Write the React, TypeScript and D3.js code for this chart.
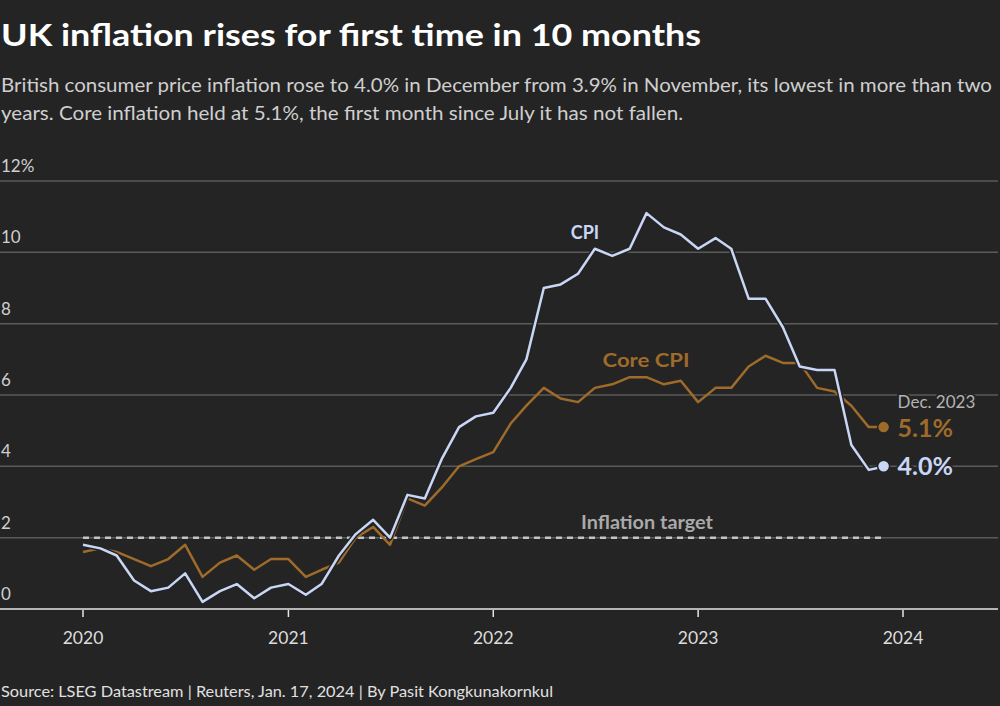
import React, { useEffect, useRef } from 'react';
import * as d3 from 'd3';

const months = d3.timeMonths(new Date(2020, 0, 1), new Date(2024, 0, 1));

const cpi = [
  1.8, 1.7, 1.5, 0.8, 0.5, 0.6, 1.0, 0.2, 0.5, 0.7, 0.3, 0.6,
  0.7, 0.4, 0.7, 1.5, 2.1, 2.5, 2.0, 3.2, 3.1, 4.2, 5.1, 5.4,
  5.5, 6.2, 7.0, 9.0, 9.1, 9.4, 10.1, 9.9, 10.1, 11.1, 10.7, 10.5,
  10.1, 10.4, 10.1, 8.7, 8.7, 7.9, 6.8, 6.7, 6.7, 4.6, 3.9, 4.0,
];

const coreCpi = [
  1.6, 1.7, 1.6, 1.4, 1.2, 1.4, 1.8, 0.9, 1.3, 1.5, 1.1, 1.4,
  1.4, 0.9, 1.1, 1.3, 2.0, 2.3, 1.8, 3.1, 2.9, 3.4, 4.0, 4.2,
  4.4, 5.2, 5.7, 6.2, 5.9, 5.8, 6.2, 6.3, 6.5, 6.5, 6.3, 6.4,
  5.8, 6.2, 6.2, 6.8, 7.1, 6.9, 6.9, 6.2, 6.1, 5.7, 5.1, 5.1,
];

const yTicks = [0, 2, 4, 6, 8, 10, 12];
const xTicks = [2020, 2021, 2022, 2023, 2024];
const target = 2;

const BG = '#242424';
const CPI_COLOR = '#c9d6f6';
const CORE_COLOR = '#9e6b2a';
const FONT = 'Lato, "Noto Sans", sans-serif';

const App = () => {
  const svgRef = useRef(null);

  useEffect(() => {
    const width = 1000;
    const height = 706;
    const svg = d3.select(svgRef.current);
    svg.selectAll('*').remove();
    svg.attr('width', width).attr('height', height).style('font-family', FONT);

    svg.append('rect').attr('width', width).attr('height', height).attr('fill', BG);

    // title + subtitle
    svg.append('text').attr('x', 1).attr('y', 46)
      .attr('fill', '#fff').attr('font-size', 31).attr('font-weight', 700)
      .attr('textLength', 700).attr('lengthAdjust', 'spacingAndGlyphs')
      .text('UK inflation rises for first time in 10 months');
    svg.append('text').attr('x', 1).attr('y', 92)
      .attr('fill', '#cfcfcf').attr('font-size', 19)
      .attr('textLength', 991).attr('lengthAdjust', 'spacingAndGlyphs')
      .text('British consumer price inflation rose to 4.0% in December from 3.9% in November, its lowest in more than two');
    svg.append('text').attr('x', 1).attr('y', 120)
      .attr('fill', '#cfcfcf').attr('font-size', 19)
      .attr('textLength', 682).attr('lengthAdjust', 'spacingAndGlyphs')
      .text('years. Core inflation held at 5.1%, the first month since July it has not fallen.');

    const x = d3.scaleTime()
      .domain([new Date(2020, 0, 1), new Date(2024, 0, 1)])
      .range([83, 903]);
    const y = d3.scaleLinear().domain([0, 12]).range([609, 181]);

    // grid
    const grid = svg.append('g');
    yTicks.forEach((t) => {
      grid.append('line')
        .attr('x1', 0).attr('x2', 998)
        .attr('y1', y(t)).attr('y2', y(t))
        .attr('stroke', t === 0 ? '#e6e6e6' : '#5a5a5a')
        .attr('stroke-width', 1.5);
      grid.append('text')
        .attr('x', 1).attr('y', y(t) - 9)
        .attr('fill', '#cfcfcf').attr('font-size', 17)
        .text(t === 12 ? `${t}%` : `${t}`);
    });

    // x ticks
    xTicks.forEach((yr) => {
      const px = x(new Date(yr, 0, 1));
      svg.append('line')
        .attr('x1', px).attr('x2', px).attr('y1', 610).attr('y2', 617)
        .attr('stroke', '#e6e6e6').attr('stroke-width', 1.5);
      svg.append('text')
        .attr('x', px).attr('y', 644).attr('text-anchor', 'middle')
        .attr('fill', '#dcdcdc').attr('font-size', 17.5)
        .text(yr);
    });

    // inflation target
    svg.append('line')
      .attr('x1', x(months[0])).attr('x2', x(months[months.length - 1]))
      .attr('y1', y(target)).attr('y2', y(target))
      .attr('stroke', '#c4c4c4').attr('stroke-width', 2.5)
      .attr('stroke-dasharray', '6 5');
    svg.append('text')
      .attr('x', 647).attr('y', y(target) - 9).attr('text-anchor', 'middle')
      .attr('fill', '#a9a9a9').attr('font-size', 18).attr('font-weight', 700)
      .attr('textLength', 132).attr('lengthAdjust', 'spacingAndGlyphs')
      .text('Inflation target');

    const line = d3.line<number>()
      .x((_, i) => x(months[i]))
      .y((d) => y(d));

    svg.append('path').datum(coreCpi)
      .attr('d', line).attr('fill', 'none')
      .attr('stroke', CORE_COLOR).attr('stroke-width', 2.5)
      .attr('stroke-linejoin', 'round');
    svg.append('path').datum(cpi)
      .attr('d', line).attr('fill', 'none')
      .attr('stroke', BG).attr('stroke-width', 5.5)
      .attr('stroke-linejoin', 'round');
    svg.append('path').datum(cpi)
      .attr('d', line).attr('fill', 'none')
      .attr('stroke', CPI_COLOR).attr('stroke-width', 2.5)
      .attr('stroke-linejoin', 'round');

    // series labels
    svg.append('text').attr('x', 585).attr('y', 239).attr('text-anchor', 'middle')
      .attr('fill', CPI_COLOR).attr('font-size', 18).attr('font-weight', 700)
      .attr('stroke', BG).attr('stroke-width', 4).attr('paint-order', 'stroke')
      .text('CPI');
    svg.append('text').attr('x', 646).attr('y', 367).attr('text-anchor', 'middle')
      .attr('fill', CORE_COLOR).attr('font-size', 18).attr('font-weight', 700)
      .attr('stroke', BG).attr('stroke-width', 4).attr('paint-order', 'stroke')
      .attr('textLength', 87).attr('lengthAdjust', 'spacingAndGlyphs')
      .text('Core CPI');

    // end points
    const last = months.length - 1;
    const ends = [
      { v: coreCpi[last], c: CORE_COLOR, dy: 10 },
      { v: cpi[last], c: CPI_COLOR, dy: 9 },
    ];
    ends.forEach((e) => {
      svg.append('circle')
        .attr('cx', x(months[last]) - 2).attr('cy', y(e.v)).attr('r', 6)
        .attr('fill', e.c).attr('stroke', BG).attr('stroke-width', 1.5);
      svg.append('text')
        .attr('x', x(months[last]) + 12).attr('y', y(e.v) + e.dy)
        .attr('fill', e.c).attr('font-size', 25).attr('font-weight', 700)
        .attr('stroke', BG).attr('stroke-width', 4).attr('paint-order', 'stroke')
        .text(`${e.v.toFixed(1)}%`);
    });
    svg.append('text')
      .attr('x', x(months[last]) + 12).attr('y', 408)
      .attr('fill', '#b4b4b4').attr('font-size', 17)
      .attr('stroke', BG).attr('stroke-width', 4).attr('paint-order', 'stroke')
      .text('Dec. 2023');

    // footer
    svg.append('text').attr('x', 1).attr('y', 697)
      .attr('fill', '#e0e0e0').attr('font-size', 15)
      .attr('textLength', 552).attr('lengthAdjust', 'spacingAndGlyphs')
      .text('Source: LSEG Datastream | Reuters, Jan. 17, 2024 | By Pasit Kongkunakornkul');
  }, []);

  return (
    <div style={{ position: 'fixed', left: 0, top: 0 }}>
      <svg ref={svgRef} style={{ display: 'block' }}></svg>
    </div>
  );
};

export default App;
